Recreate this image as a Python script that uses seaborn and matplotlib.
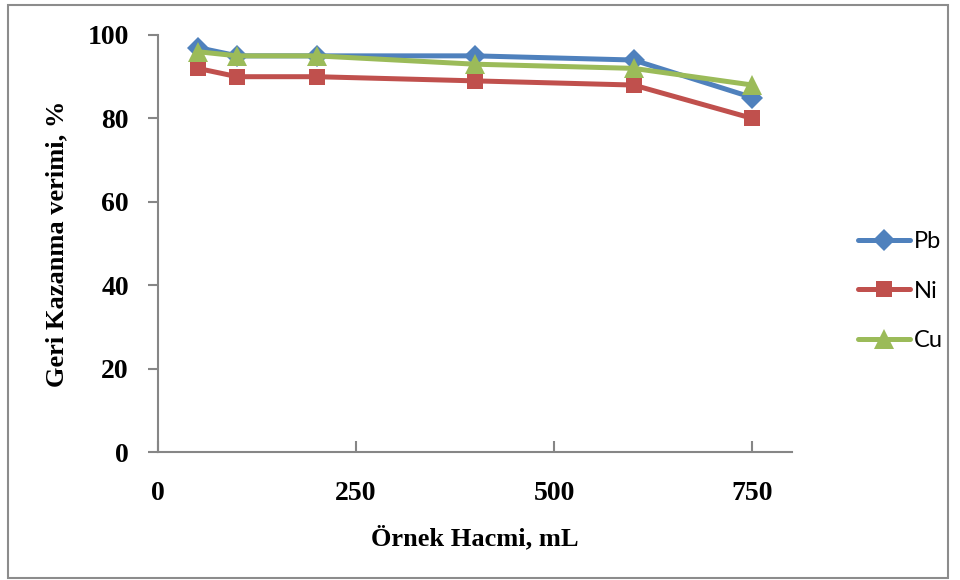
import matplotlib
matplotlib.use("Agg")
import matplotlib.pyplot as plt
import seaborn as sns
import pandas as pd
from matplotlib.patches import Rectangle

# Data
volumes = [50, 100, 200, 400, 600, 750]
pb = [97, 95, 95, 95, 94, 85]
ni = [92, 90, 90, 89, 88, 80]
cu = [96, 95, 95, 93, 92, 88]
series_names = ["Pb", "Ni", "Cu"]
x_ticks = [0, 250, 500, 750]
y_ticks = [0, 20, 40, 60, 80, 100]

df = pd.DataFrame({"x": volumes * 3,
                   "y": pb + ni + cu,
                   "metal": sum([[n] * len(volumes) for n in series_names], [])})

sns.set_theme(style="white")
plt.rcParams['font.family'] = ['Liberation Serif', 'DejaVu Serif']
plt.rcParams['text.color'] = 'black'
plt.rcParams['axes.labelcolor'] = 'black'

fig = plt.figure(figsize=(9.6, 5.8), dpi=100)
ax = fig.add_axes([158/960, 1-452/580, (792-158)/960, (452-35)/580])

palette = {"Pb": "#4F81BD", "Ni": "#C0504D", "Cu": "#9BBB59"}
markers = {"Pb": "D", "Ni": "s", "Cu": "^"}
sizes = {"Pb": 11, "Ni": 12, "Cu": 14}
for name in series_names:
    sub = df[df.metal == name]
    sns.lineplot(data=sub, x="x", y="y", ax=ax, color=palette[name],
                 marker=markers[name], markersize=sizes[name], linewidth=3.6,
                 markeredgewidth=0, label=name, sort=False)

ax.set_xlim(0, 800)
ax.set_ylim(0, 100)
ax.set_xticks(x_ticks)
ax.set_yticks(y_ticks)
for s in ["top", "right"]:
    ax.spines[s].set_visible(False)
for s in ["left", "bottom"]:
    ax.spines[s].set_color("#868686")
    ax.spines[s].set_linewidth(1.5)
ax.tick_params(axis="y", direction="out", length=7, width=1.5, color="#868686",
               left=True, labelsize=20, pad=14, labelcolor="black")
ax.tick_params(axis="x", direction="in", length=8, width=1.5, color="#868686",
               bottom=True, labelsize=20, pad=21, labelcolor="black")
for lab in ax.get_xticklabels() + ax.get_yticklabels():
    lab.set_fontweight("bold")

ax.set_xlabel("Örnek Hacmi, mL", fontsize=19, fontweight="bold", labelpad=14)
ax.set_ylabel("Geri Kazanma verimi, %", fontsize=19, fontweight="bold", labelpad=14)

leg = ax.legend(loc="center left", bbox_to_anchor=(1.071, 0.386), frameon=False,
                prop={"family": ["Lato", "DejaVu Sans"], "size": 17},
                handlelength=2.2, handletextpad=0.15, labelspacing=1.2)
for t in leg.get_texts():
    t.set_color("black")

fig.patches.append(Rectangle((8/960, 2/580), 940/960, 573/580, transform=fig.transFigure,
                             fill=False, edgecolor="#8c8c8c", linewidth=1.5))

fig.savefig("out.png", dpi=100)
